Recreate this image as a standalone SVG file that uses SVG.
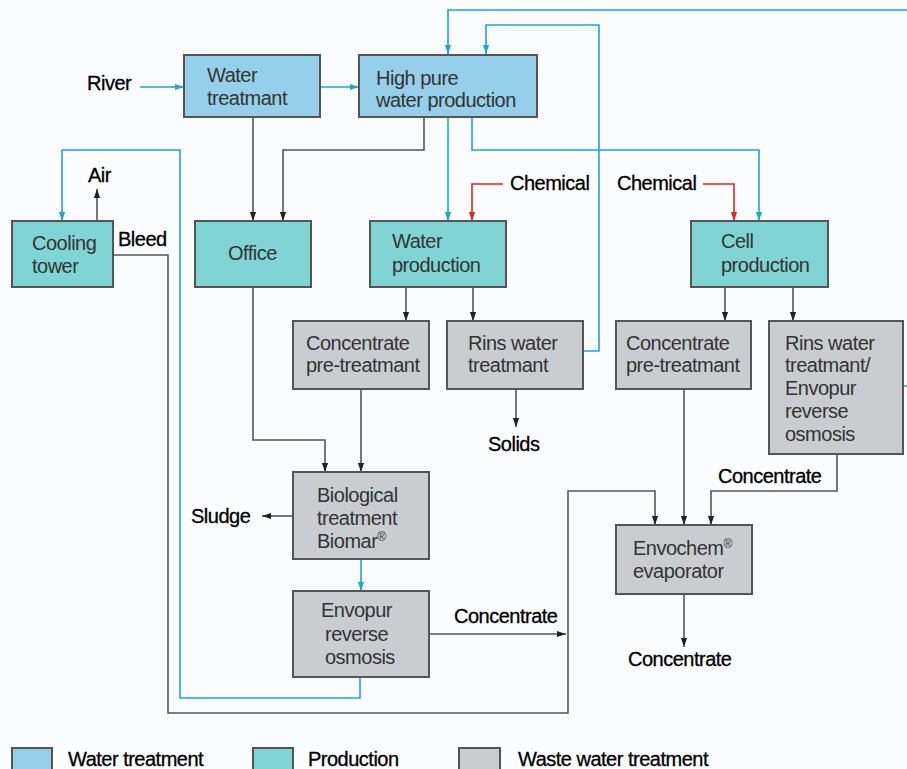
<svg xmlns="http://www.w3.org/2000/svg" width="907" height="769" viewBox="0 0 907 769">
<defs>
<style>
.bx{stroke:#555;stroke-width:2}
.wt{fill:#95cfe9}
.pr{fill:#80d4d3}
.ww{fill:#c9cdd0}
.t{font-family:"Liberation Sans",Arial,sans-serif;font-size:20px;fill:#333;letter-spacing:-0.5px}
.l{font-family:"Liberation Sans",Arial,sans-serif;font-size:20px;fill:#000;letter-spacing:-0.5px;stroke:#000;stroke-width:0.3}
.c{fill:none;stroke-width:1.6}
.g{stroke:#555}
.b{stroke:#1ea3dc}
.tl{stroke:#14b3b5}
.r{stroke:#e2261f}
</style>
<marker id="ag" markerWidth="9" markerHeight="13" refX="13" refY="4.5" orient="auto" markerUnits="userSpaceOnUse" viewBox="0 0 13 9"><path d="M0,0 L13,4.5 L0,9 z" fill="#222"/></marker>
<marker id="ab" markerWidth="9" markerHeight="13" refX="13" refY="4.5" orient="auto" markerUnits="userSpaceOnUse" viewBox="0 0 13 9"><path d="M0,0 L13,4.5 L0,9 z" fill="#1ea3dc"/></marker>
<marker id="at" markerWidth="9" markerHeight="13" refX="13" refY="4.5" orient="auto" markerUnits="userSpaceOnUse" viewBox="0 0 13 9"><path d="M0,0 L13,4.5 L0,9 z" fill="#14b3b5"/></marker>
<marker id="ar" markerWidth="9" markerHeight="13" refX="13" refY="4.5" orient="auto" markerUnits="userSpaceOnUse" viewBox="0 0 13 9"><path d="M0,0 L13,4.5 L0,9 z" fill="#e2261f"/></marker>
</defs>
<rect width="907" height="769" fill="#fbfcfd"/>

<g id="connectors">
<path class="c b" d="M140,87 H184" marker-end="url(#ab)"/>
<path class="c b" d="M320,87 H359" marker-end="url(#ab)"/>
<path class="c b" d="M907,10 H448 V54" marker-end="url(#ab)"/>
<path class="c b" d="M583,351 H599 V25 H486 V54" marker-end="url(#ab)"/>
<path class="c tl" d="M448,117 V221" marker-end="url(#at)"/>
<path class="c b" d="M472,117 V150 H759 V221" marker-end="url(#ab)"/>
<path class="c g" d="M424,117 V150 H283 V221" marker-end="url(#ag)"/>
<path class="c g" d="M253,117 V221" marker-end="url(#ag)"/>
<path class="c r" d="M503,184 H472 V221" marker-end="url(#ar)"/>
<path class="c r" d="M703,184 H734 V221" marker-end="url(#ar)"/>
<path class="c b" d="M360,677 V698 H180 V150 H62 V221" marker-end="url(#ab)"/>
<path class="c g" d="M97,221 V189" marker-end="url(#ag)"/>
<path class="c g" d="M113,255 H168 V713 H568 V491 H655 V525" marker-end="url(#ag)"/>
<path class="c g" d="M429,634 H566" marker-end="url(#ag)"/>
<path class="c g" d="M684,389 V525" marker-end="url(#ag)"/>
<path class="c g" d="M837,454 V491 H711 V525" marker-end="url(#ag)"/>
<path class="c b" d="M903,386 H907"/>
<path class="c g" d="M406,287 V321" marker-end="url(#ag)"/>
<path class="c g" d="M473,287 V321" marker-end="url(#ag)"/>
<path class="c g" d="M725,287 V321" marker-end="url(#ag)"/>
<path class="c g" d="M793,287 V321" marker-end="url(#ag)"/>
<path class="c g" d="M253,287 V440 H325 V472" marker-end="url(#ag)"/>
<path class="c g" d="M361,389 V472" marker-end="url(#ag)"/>
<path class="c g" d="M293,516 H262" marker-end="url(#ag)"/>
<path class="c b" d="M361,559 V591" marker-end="url(#ab)"/>
<path class="c g" d="M516,389 V427" marker-end="url(#ag)"/>
<path class="c g" d="M684,594 V647" marker-end="url(#ag)"/>
</g>

<g id="water-treatment"><rect class="bx wt" x="184" y="55" width="136" height="62"/><text class="t" x="207" y="82">Water</text><text class="t" x="207" y="105">treatmant</text></g>
<g id="high-pure"><rect class="bx wt" x="359" y="55" width="178" height="62"/><text class="t" x="376" y="85">High pure</text><text class="t" x="376" y="107">water production</text></g>
<g id="cooling-tower"><rect class="bx pr" x="12" y="221" width="101" height="66"/><text class="t" x="32" y="250">Cooling</text><text class="t" x="32" y="273">tower</text></g>
<g id="office"><rect class="bx pr" x="195" y="221" width="116" height="66"/><text class="t" x="228" y="260">Office</text></g>
<g id="water-production"><rect class="bx pr" x="370" y="221" width="136" height="66"/><text class="t" x="392" y="248">Water</text><text class="t" x="392" y="272">production</text></g>
<g id="cell-production"><rect class="bx pr" x="691" y="221" width="137" height="66"/><text class="t" x="721" y="248">Cell</text><text class="t" x="721" y="272">production</text></g>
<g id="conc-pre-left"><rect class="bx ww" x="293" y="321" width="136" height="68"/><text class="t" x="306" y="350">Concentrate</text><text class="t" x="306" y="372">pre-treatmant</text></g>
<g id="rins-water"><rect class="bx ww" x="447" y="321" width="136" height="68"/><text class="t" x="468" y="350">Rins water</text><text class="t" x="468" y="372">treatmant</text></g>
<g id="conc-pre-right"><rect class="bx ww" x="616" y="321" width="135" height="68"/><text class="t" x="626" y="350">Concentrate</text><text class="t" x="626" y="372">pre-treatmant</text></g>
<g id="rins-envopur"><rect class="bx ww" x="769" y="321" width="134" height="133"/><text class="t" x="785" y="350">Rins water</text><text class="t" x="785" y="372">treatmant/</text><text class="t" x="785" y="395">Envopur</text><text class="t" x="785" y="418">reverse</text><text class="t" x="785" y="441">osmosis</text></g>
<g id="biological"><rect class="bx ww" x="293" y="472" width="136" height="87"/><text class="t" x="317" y="502">Biological</text><text class="t" x="317" y="525">treatment</text><text class="t" x="317" y="548">Biomar<tspan font-size="12" dy="-7">®</tspan></text></g>
<g id="envopur-ro"><rect class="bx ww" x="293" y="591" width="136" height="86"/><text class="t" x="321" y="617">Envopur</text><text class="t" x="325" y="641">reverse</text><text class="t" x="325" y="664">osmosis</text></g>
<g id="envochem"><rect class="bx ww" x="616" y="525" width="136" height="69"/><text class="t" x="633" y="555">Envochem<tspan font-size="12" dy="-7">®</tspan></text><text class="t" x="633" y="578">evaporator</text></g>

<g id="labels">
<text class="l" x="87" y="90">River</text>
<text class="l" x="88" y="182">Air</text>
<text class="l" x="118" y="246">Bleed</text>
<text class="l" x="510" y="190">Chemical</text>
<text class="l" x="617" y="190">Chemical</text>
<text class="l" x="191" y="523">Sludge</text>
<text class="l" x="488" y="451">Solids</text>
<text class="l" x="454" y="623">Concentrate</text>
<text class="l" x="718" y="483">Concentrate</text>
<text class="l" x="628" y="666">Concentrate</text>
</g>

<g id="legend">
<rect class="bx wt" x="12" y="748" width="40" height="24"/><text class="l" x="68" y="766">Water treatment</text>
<rect class="bx pr" x="253" y="748" width="40" height="24"/><text class="l" x="308" y="766">Production</text>
<rect class="bx ww" x="459" y="748" width="41" height="24"/><text class="l" x="518" y="766">Waste water treatment</text>
</g>
</svg>
